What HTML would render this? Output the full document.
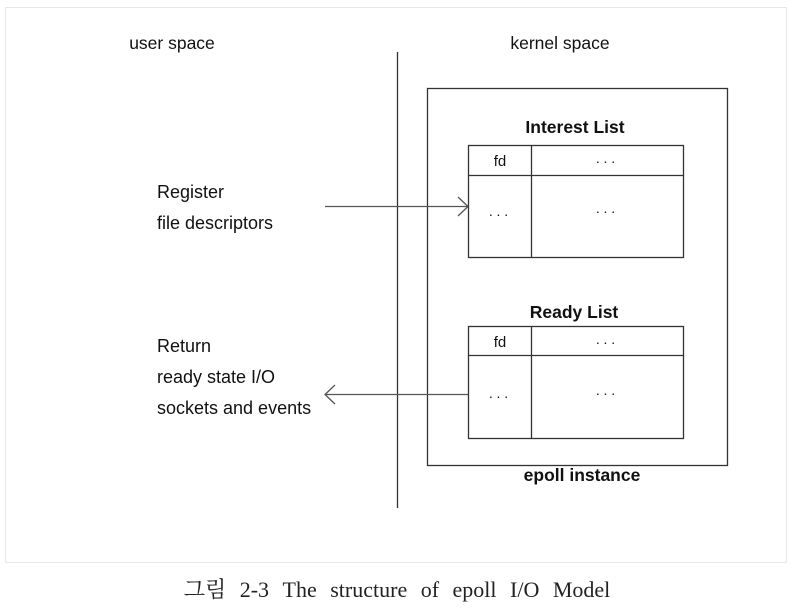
<!DOCTYPE html>
<html><head><meta charset="utf-8"><style>
html,body{margin:0;padding:0;background:#fff;width:799px;height:616px;overflow:hidden}
</style></head><body>
<svg width="799" height="616" xmlns="http://www.w3.org/2000/svg" font-family="Liberation Sans, sans-serif">
<rect x="5.5" y="7.5" width="781" height="555" fill="none" stroke="#e8e8e8"/>
<text x="172" y="49" font-size="17.5" text-anchor="middle" fill="#111">user space</text>
<text x="560" y="49" font-size="17.5" text-anchor="middle" fill="#111">kernel space</text>
<line x1="397.5" y1="52" x2="397.5" y2="508" stroke="#333" stroke-width="1.3"/>
<rect x="427.5" y="88.5" width="300" height="377" fill="none" stroke="#333" stroke-width="1.3"/>
<text x="575" y="133" font-size="17.5" font-weight="bold" text-anchor="middle" fill="#111">Interest List</text>
<rect x="468.5" y="145.5" width="215" height="112" fill="none" stroke="#333" stroke-width="1.3"/>
<line x1="468" y1="175.5" x2="684" y2="175.5" stroke="#333" stroke-width="1.3"/>
<line x1="531.5" y1="145" x2="531.5" y2="258" stroke="#333" stroke-width="1.3"/>
<text x="500" y="166" font-size="15" text-anchor="middle" fill="#111">fd</text>
<text x="607" y="166" font-size="14" text-anchor="middle" fill="#111" letter-spacing="3">···</text>
<text x="500" y="219" font-size="14" text-anchor="middle" fill="#111" letter-spacing="3">···</text>
<text x="607" y="216" font-size="14" text-anchor="middle" fill="#111" letter-spacing="3">···</text>
<text x="574" y="318" font-size="17.5" font-weight="bold" text-anchor="middle" fill="#111">Ready List</text>
<rect x="468.5" y="326.5" width="215" height="112" fill="none" stroke="#333" stroke-width="1.3"/>
<line x1="468" y1="355.5" x2="684" y2="355.5" stroke="#333" stroke-width="1.3"/>
<line x1="531.5" y1="326" x2="531.5" y2="439" stroke="#333" stroke-width="1.3"/>
<text x="500" y="347" font-size="15" text-anchor="middle" fill="#111">fd</text>
<text x="607" y="347" font-size="14" text-anchor="middle" fill="#111" letter-spacing="3">···</text>
<text x="500" y="401" font-size="14" text-anchor="middle" fill="#111" letter-spacing="3">···</text>
<text x="607" y="398" font-size="14" text-anchor="middle" fill="#111" letter-spacing="3">···</text>
<text x="582" y="481" font-size="17.5" font-weight="bold" text-anchor="middle" fill="#111">epoll instance</text>
<text x="157" y="198" font-size="18" fill="#111">Register</text>
<text x="157" y="229" font-size="18" fill="#111">file descriptors</text>
<line x1="325" y1="206.5" x2="468" y2="206.5" stroke="#555" stroke-width="1.3"/>
<polyline points="458,197 468,206.5 458,216" fill="none" stroke="#555" stroke-width="1.3"/>
<text x="157" y="352" font-size="18" fill="#111">Return</text>
<text x="157" y="383" font-size="18" fill="#111">ready state I/O</text>
<text x="157" y="414" font-size="18" fill="#111">sockets and events</text>
<line x1="325" y1="394.5" x2="468" y2="394.5" stroke="#555" stroke-width="1.3"/>
<polyline points="335,385 325,394.5 335,404" fill="none" stroke="#555" stroke-width="1.3"/>
<text x="397" y="597" font-size="22" word-spacing="8" text-anchor="middle" fill="#222" font-family="Liberation Serif, Noto Serif CJK SC, serif">그림 2-3 The structure of epoll I/O Model</text>
</svg>
</body></html>
